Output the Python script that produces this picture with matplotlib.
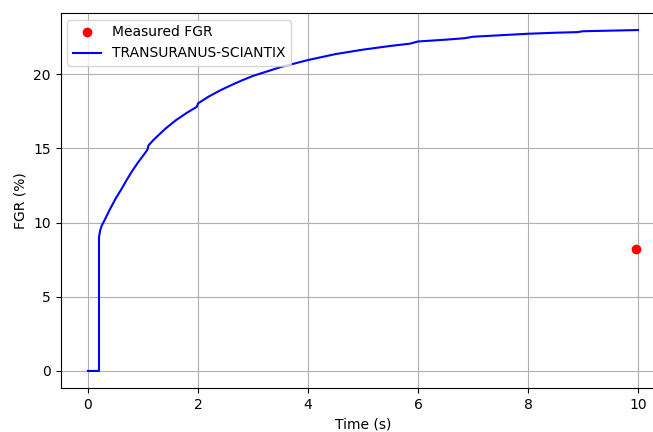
import matplotlib
matplotlib.use("Agg")
import matplotlib.pyplot as plt

# simulated FGR (TRANSURANUS-SCIANTIX)
time = [0, 0.2, 0.2, 0.22, 0.25, 0.3, 0.4, 0.5, 0.6, 0.7, 0.8, 0.9, 1.0, 1.08, 1.1,
        1.2, 1.4, 1.6, 1.8, 1.98, 2.0, 2.2, 2.4, 2.6, 2.8, 3.0, 3.5, 4.0, 4.5, 5.0, 5.5, 5.85,
        6.0, 6.5, 6.85, 7.0, 7.5, 8.0, 8.5, 8.9, 9.0, 9.5, 10.0]
fgr = [0, 0, 9.0, 9.45, 9.8, 10.15, 10.9, 11.6, 12.2, 12.85, 13.45, 14.0, 14.5, 14.9, 15.2,
       15.6, 16.3, 16.9, 17.4, 17.8, 18.03, 18.5, 18.9, 19.25, 19.58, 19.88, 20.47, 20.95, 21.35, 21.65, 21.9, 22.05,
       22.2, 22.32, 22.42, 22.52, 22.62, 22.72, 22.79, 22.83, 22.89, 22.93, 22.97]

# measured
t_meas = [9.96]
fgr_meas = [8.2]

fig = plt.figure(figsize=(6.53, 4.32), dpi=100)
ax = fig.add_axes([60.5/653, 44/432, 605/653, 375/432])
ax.plot(t_meas, fgr_meas, 'ro', label='Measured FGR')
ax.plot(time, fgr, 'b-', label='TRANSURANUS-SCIANTIX')
ax.set_xlim(-0.5, 10.5)
ax.set_xlabel('Time (s)')
ax.set_ylabel('FGR (%)')
ax.grid(True)
ax.legend(loc='upper left')

fig.savefig('out.png', dpi=100)
